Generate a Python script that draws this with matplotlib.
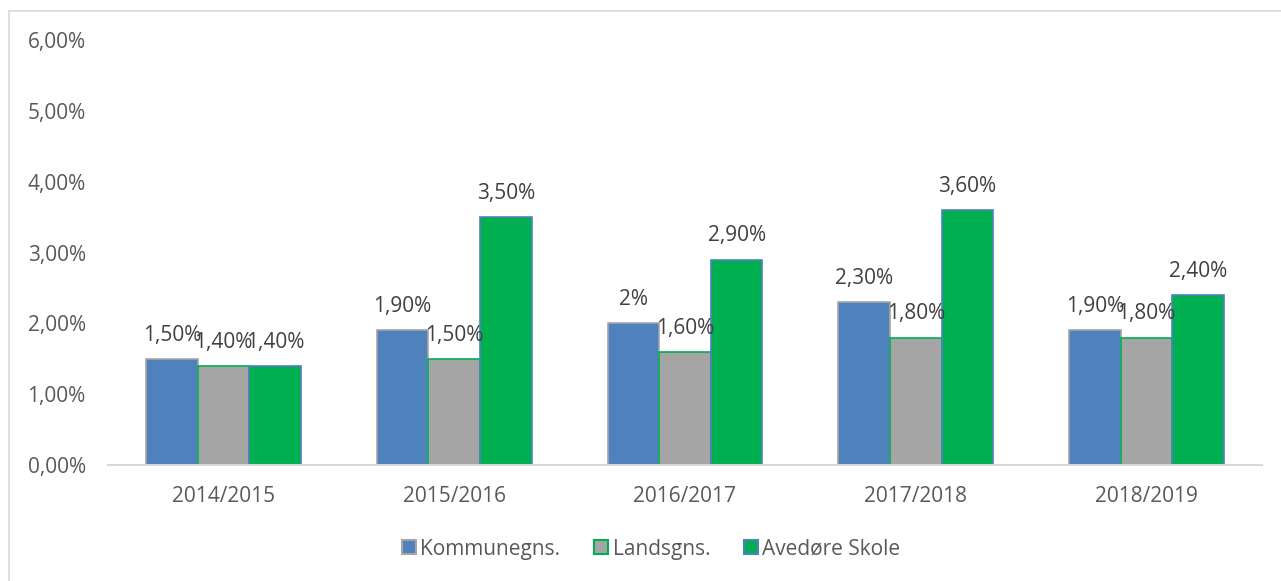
"""Fravær pr. skoleår: Kommunegns. vs Landsgns. vs Avedøre Skole."""
import numpy as np
import matplotlib
matplotlib.use("Agg")
import matplotlib.pyplot as plt
from matplotlib.lines import Line2D

plt.rcParams["font.family"] = ["Open Sans", "DejaVu Sans"]

years = ["2014/2015", "2015/2016", "2016/2017", "2017/2018", "2018/2019"]
kommune = [1.5, 1.9, 2.0, 2.3, 1.9]
lands = [1.4, 1.5, 1.6, 1.8, 1.8]
avedore = [1.4, 3.5, 2.9, 3.6, 2.4]
labels_k = ["1,50%", "1,90%", "2%", "2,30%", "1,90%"]
labels_l = ["1,40%", "1,50%", "1,60%", "1,80%", "1,80%"]
labels_a = ["1,40%", "3,50%", "2,90%", "3,60%", "2,40%"]
yticks = [0, 1, 2, 3, 4, 5, 6]

series = [
    ("Kommunegns.", kommune, labels_k, "#4F81BD", "#A5A5A5"),
    ("Landsgns.", lands, labels_l, "#A5A5A5", "#00B050"),
    ("Avedøre Skole", avedore, labels_a, "#00B050", "#4F81BD"),
]

fig = plt.figure(figsize=(12.81, 5.81), dpi=100)
ax = fig.add_axes([108 / 1281, 1 - 465 / 581, 1154 / 1281, (465 - 40) / 581])

x = np.arange(len(years))
w = 0.2236
for i, (name, vals, labs, fc, ec) in enumerate(series):
    xs = x + (i - 1) * w
    ax.bar(xs, vals, width=w, color=fc, edgecolor=ec, linewidth=1.2, label=name, zorder=2)
    for xi, v, lab in zip(xs, vals, labs):
        ax.annotate(lab, (xi, v), xytext=(0, 17), textcoords="offset points",
                    ha="center", va="center", fontsize=15, color="#404040")

ax.set_xlim(-0.5, len(years) - 0.5)
ax.set_ylim(0, 6)
ax.set_yticks(yticks)
ax.set_yticklabels([f"{t},00%" for t in yticks])
ax.set_xticks(x)
ax.set_xticklabels(years)
ax.tick_params(axis="y", length=0, pad=16, labelsize=15, labelcolor="#595959")
ax.tick_params(axis="x", length=0, pad=15, labelsize=15, labelcolor="#595959")
for s in ["top", "right", "left"]:
    ax.spines[s].set_visible(False)
ax.spines["bottom"].set_color("#D9D9D9")
ax.spines["bottom"].set_linewidth(1.5)

handles = [Line2D([], [], ls="", marker="s", ms=10, markerfacecolor=fc,
                  markeredgecolor=ec, markeredgewidth=1.5) for _, _, _, fc, ec in series]
fig.legend(handles, [s[0] for s in series], loc="center", bbox_to_anchor=(651 / 1281, 1 - 549 / 581),
           ncol=3, frameon=False, fontsize=15, labelcolor="#595959",
           handlelength=0.7, handletextpad=0.2, columnspacing=1.6)

# outer chart border (top and left visible in the crop)
fig.add_artist(Line2D([8.5 / 1281, 8.5 / 1281], [0, 1 - 10.5 / 581], color="#D9D9D9", lw=1.2,
                      transform=fig.transFigure))
fig.add_artist(Line2D([8.5 / 1281, 1], [1 - 10.5 / 581, 1 - 10.5 / 581], color="#D9D9D9", lw=1.2,
                      transform=fig.transFigure))

fig.savefig("out.png", dpi=100)
